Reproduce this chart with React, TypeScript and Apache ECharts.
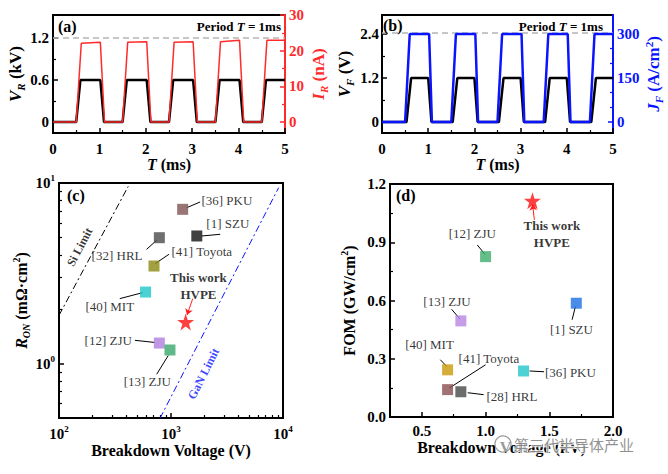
import React, { useEffect, useRef } from 'react';
import * as echarts from 'echarts';

const FONT = "'Liberation Serif','Times New Roman',serif";
const RED = '#ff2b2b';
const BLUE = '#0a14ff';
const lg = Math.log10;

// ---------- Panel (a) ----------
const aTimeV = [0, 0.5, 0.59, 1.02, 1.1, 1.5, 1.59, 2.02, 2.1, 2.5, 2.59, 3.02, 3.1, 3.5, 3.59, 4.02, 4.1, 4.5, 4.59, 5];
const aVR = [0, 0, 0.6, 0.6, 0, 0, 0.6, 0.6, 0, 0, 0.6, 0.6, 0, 0, 0.6, 0.6, 0, 0, 0.6, 0.6];
const aTimeI = [0, 0.5, 0.61, 1.02, 1.11, 1.5, 1.61, 2.02, 2.11, 2.5, 2.61, 3.02, 3.11, 3.5, 3.61, 4.02, 4.11, 4.5, 4.61, 5];
const aIR = [0, 0, 22.1, 22.4, 0, 0, 22.4, 22.5, 0, 0, 22.4, 22.5, 0, 0, 22.5, 22.9, 0, 0, 22.9, 22.9];
const aRefV = 1.2;
const tTicks = [0, 1, 2, 3, 4, 5];
const tMinor = [0.5, 1.5, 2.5, 3.5, 4.5];
const aVTicks = [0, 0.6, 1.2];
const aVMinor = [0.3, 0.9];
const aITicks = [0, 10, 20, 30];
const aIMinor = [5, 15, 25];

// ---------- Panel (b) ----------
const bTimeV = [0, 0.53, 0.63, 1.0, 1.07, 1.53, 1.63, 2.0, 2.07, 2.53, 2.63, 3.0, 3.07, 3.53, 3.63, 4.0, 4.07, 4.53, 4.63, 5];
const bVF = [0, 0, 1.2, 1.2, 0, 0, 1.2, 1.2, 0, 0, 1.2, 1.2, 0, 0, 1.2, 1.2, 0, 0, 1.2, 1.2];
const bTimeJ = [0, 0.5, 0.6, 1.02, 1.08, 1.5, 1.6, 2.02, 2.08, 2.5, 2.6, 3.02, 3.08, 3.5, 3.6, 4.02, 4.08, 4.5, 4.6, 5];
const bJF = [0, 0, 300, 300, 0, 0, 300, 300, 0, 0, 300, 300, 0, 0, 300, 300, 0, 0, 300, 300];
const bRefV = 2.43;
const bVTicks = [0, 1.2, 2.4];
const bVMinor = [0.6, 1.8];
const bJTicks = [0, 150, 300];
const bJMinor = [50, 100, 200, 250];

// ---------- Panel (c) ----------
const cNames = ['[36] PKU', '[1] SZU', '[32] HRL', '[41] Toyota', '[40] MIT', '[12] ZJU', '[13] ZJU'];
const cBV = [1271, 1700, 787, 705, 593, 787, 979];
const cRon = [7.15, 5.09, 4.98, 3.47, 2.49, 1.3, 1.19];
const cColors = ['#7f5252', '#101010', '#4b4b4b', '#8a8a12', '#1cc6c9', '#b07ddf', '#3aa86a'];
const cThisBV = 1352;
const cThisRon = 1.7;
const siLimitBV = [100, 415];
const siLimitRon = [1.85, 9.58];
const ganLimitBV = [796, 9140];
const ganLimitRon = [0.497, 9.42];
const cXTicks = [100, 1000, 10000];
const cXMinor = [200, 300, 400, 500, 600, 700, 800, 900, 2000, 3000, 4000, 5000, 6000, 7000, 8000, 9000];
const cYTicks = [1, 10];
const cYMinor = [0.6, 0.7, 0.8, 0.9, 2, 3, 4, 5, 6, 7, 8, 9];
// annotation layout: [text, textX, textY, leaderX1, leaderY1, leaderX2, leaderY2]
const cNotes: [string, number, number, number, number, number, number][] = [
  ['[36] PKU', 3155, 7.95, 1380, 7.3, 1820, 7.85],
  ['[1] SZU', 3215, 5.96, 1885, 5.09, 2750, 5.2],
  ['[32] HRL', 330, 3.98, 605, 4.29, 745, 4.82],
  ['[41] Toyota', 1884, 4.15, 724, 3.58, 959, 4.03],
  ['[40] MIT', 284, 2.06, 349, 2.29, 557, 2.47],
  ['[12] ZJU', 275, 1.335, 476, 1.346, 714, 1.31],
  ['[13] ZJU', 614, 0.798, 745, 0.873, 946, 1.11],
];
const cThisNote: [string, number, number, number, number, number, number] = ['This work\nHVPE', 1758, 2.7, 1563, 2.29, 1390, 1.86];

// ---------- Panel (d) ----------
const dNames = ['[12] ZJU', '[13] ZJU', '[1] SZU', '[40] MIT', '[41] Toyota', '[28] HRL', '[36] PKU'];
const dBV = [1.0, 0.806, 1.712, 0.702, 0.702, 0.806, 1.298];
const dFOM = [0.826, 0.495, 0.586, 0.243, 0.141, 0.13, 0.237];
const dColors = ['#3fae6c', '#b685e3', '#1e6fe3', '#c99a08', '#8a4f4f', '#474747', '#22c6cb'];
const dThisBV = 1.368;
const dThisFOM = 1.114;
const dXTicks = [0.5, 1.0, 1.5, 2.0];
const dXMinor = [0.75, 1.25, 1.75];
const dYTicks = [0, 0.3, 0.6, 0.9, 1.2];
const dYMinor = [0.15, 0.45, 0.75, 1.05];
const dNotes: [string, number, number, number, number, number, number][] = [
  ['[12] ZJU', 0.896, 0.946, 0.935, 0.886, 0.995, 0.838],
  ['[13] ZJU', 0.697, 0.595, 0.733, 0.555, 0.8, 0.504],
  ['[1] SZU', 1.674, 0.449, 1.679, 0.501, 1.705, 0.569],
  ['[40] MIT', 0.56, 0.372, 0.645, 0.295, 0.694, 0.261],
  ['[41] Toyota', 1.026, 0.3, 1.0, 0.269, 0.715, 0.149],
  ['[28] HRL', 1.207, 0.106, 0.86, 0.125, 0.985, 0.115],
  ['[36] PKU', 1.666, 0.23, 1.345, 0.237, 1.459, 0.233],
];
const dThisNote: [string, number, number, number, number, number, number] = ['This work\nHVPE', 1.52, 0.94, 1.383, 1.015, 1.369, 1.095];

const STAR = 'path://M50,0 L61.8,35.1 L98.9,35.1 L68.9,57.4 L80.3,92.7 L50,71 L19.7,92.7 L31.1,57.4 L1.1,35.1 L38.2,35.1 Z';

function richSet(color: string, size: number) {
  const base = { fontFamily: FONT, fontWeight: 'bold', color };
  return {
    n: { ...base, fontSize: size, lineHeight: size + 4 },
    i: { ...base, fontStyle: 'italic', fontSize: size, lineHeight: size + 4 },
    s: { ...base, fontStyle: 'italic', fontSize: Math.round(size * 0.62), verticalAlign: 'bottom' },
    p: { ...base, fontSize: Math.round(size * 0.62), verticalAlign: 'top' },
  };
}

type AxOpt = {
  grid: number; pos: string; min: number; max: number; ticks: number[]; labels?: number[];
  fmt?: (v: number) => string; color?: string; name?: string; nameGap?: number; margin?: number; line?: boolean; nameSize?: number;
};

function mainAxis(o: AxOpt) {
  const color = o.color || '#000';
  return {
    type: 'value', gridIndex: o.grid, position: o.pos, min: o.min, max: o.max,
    splitLine: { show: false },
    axisLine: { show: o.line !== false, onZero: false, lineStyle: { color, width: 2 } },
    axisTick: { show: true, inside: true, length: 5, customValues: o.ticks, lineStyle: { color, width: 1.5 } },
    axisLabel: {
      show: true, customValues: o.labels, margin: o.margin ?? 4,
      formatter: o.fmt || ((v: number) => `{n|${v}}`),
      rich: richSet(color, 15),
    },
    name: o.name, nameLocation: 'middle', nameGap: o.nameGap,
    nameTextStyle: { rich: richSet(color, o.nameSize || 16) },
  };
}

function minorAxis(grid: number, pos: string, min: number, max: number, ticks: number[], color = '#000') {
  return {
    type: 'value', gridIndex: grid, position: pos, min, max,
    splitLine: { show: false },
    axisLine: { show: false, onZero: false },
    axisTick: { show: true, inside: true, length: 3, customValues: ticks, lineStyle: { color, width: 1.2 } },
    axisLabel: { show: false },
  };
}

function zip(xs: number[], ys: number[], fx = (v: number) => v, fy = (v: number) => v) {
  return xs.map((x, i) => [fx(x), fy(ys[i])]);
}

function noteSeries(notes: [string, number, number, number, number, number, number][], xi: number, yi: number, f: (v: number) => number, color: string, textColor: string, bold: boolean, arrow: boolean) {
  return [
    {
      type: 'lines', coordinateSystem: 'cartesian2d', xAxisIndex: xi, yAxisIndex: yi, silent: true,
      symbol: arrow ? ['none', 'arrow'] : 'none', symbolSize: 6,
      lineStyle: { color, width: 1, opacity: 1, curveness: 0 },
      data: notes.map((n) => ({ coords: [[f(n[3]), f(n[4])], [f(n[5]), f(n[6])]] })),
      z: 3,
    },
    {
      type: 'scatter', xAxisIndex: xi, yAxisIndex: yi, silent: true, symbolSize: 1,
      itemStyle: { color: 'transparent' },
      data: notes.map((n) => ({ value: [f(n[1]), f(n[2])], name: n[0] })),
      label: {
        show: true, position: 'inside', formatter: '{b}', color: textColor,
        fontFamily: FONT, fontSize: 13, fontWeight: bold ? 'bold' : 'normal', lineHeight: 17,
      },
      z: 4,
    },
  ];
}

const idn = (v: number) => v;

function buildOption() {
  const grids = [
    { left: 53, top: 15, width: 232, height: 118 },
    { left: 382, top: 15, width: 231, height: 118 },
    { left: 59, top: 183, width: 224, height: 235 },
    { left: 390, top: 184, width: 223, height: 233 },
  ].map((g) => ({ ...g, show: true, borderColor: '#000', borderWidth: 2 }));

  const xAxis = [
    mainAxis({ grid: 0, pos: 'bottom', min: 0, max: 5, ticks: tTicks, labels: tTicks, name: '{i|T}{n| (ms)}', nameGap: 16, margin: 6 }),
    minorAxis(0, 'bottom', 0, 5, tMinor),
    mainAxis({ grid: 1, pos: 'bottom', min: 0, max: 5, ticks: tTicks, labels: tTicks, name: '{i|T}{n| (ms)}', nameGap: 16, margin: 6 }),
    minorAxis(1, 'bottom', 0, 5, tMinor),
    mainAxis({ grid: 2, pos: 'bottom', min: 2, max: 4, ticks: cXTicks.map(lg), labels: cXTicks.map(lg), fmt: (v) => `{n|10}{p|${Math.round(v)}}`, name: '{n|Breakdown Voltage (V)}', nameGap: 22, margin: 6 }),
    minorAxis(2, 'bottom', 2, 4, cXMinor.map(lg)),
    mainAxis({ grid: 3, pos: 'bottom', min: 0.25, max: 2.0, ticks: dXTicks, labels: dXTicks, fmt: (v) => `{n|${v.toFixed(1)}}`, name: '{n|Breakdown Voltage (kV)}', nameGap: 20, margin: 4 }),
    minorAxis(3, 'bottom', 0.25, 2.0, dXMinor),
  ];

  const yAxis = [
    mainAxis({ grid: 0, pos: 'left', min: -0.157, max: 1.53, ticks: aVTicks, labels: aVTicks, name: '{i|V}{s|R}{n| (kV)}', nameGap: 22, margin: 4, nameSize: 17 }),
    minorAxis(0, 'left', -0.157, 1.53, aVMinor),
    mainAxis({ grid: 0, pos: 'right', min: -3.05, max: 30, ticks: aITicks, labels: aITicks, color: RED, name: '{i|I}{s|R}{n| (nA)}', nameGap: 23, margin: 4, nameSize: 17 }),
    minorAxis(0, 'right', -3.05, 30, aIMinor, RED),
    mainAxis({ grid: 1, pos: 'left', min: -0.3, max: 2.92, ticks: bVTicks, labels: bVTicks, name: '{i|V}{s|F}{n| (V)}', nameGap: 27, margin: 3, nameSize: 17 }),
    minorAxis(1, 'left', -0.3, 2.92, bVMinor),
    mainAxis({ grid: 1, pos: 'right', min: -37.5, max: 365, ticks: bJTicks, labels: bJTicks, color: BLUE, name: '{i|J}{s|F}{n| (A/cm}{p|2}{n|)}', nameGap: 30, margin: 4, nameSize: 17 }),
    minorAxis(1, 'right', -37.5, 365, bJMinor, BLUE),
    mainAxis({ grid: 2, pos: 'left', min: lg(0.5), max: 1, ticks: cYTicks.map(lg), labels: cYTicks.map(lg), fmt: (v) => `{n|10}{p|${Math.round(v)}}`, name: '{i|R}{s|ON}{n| (mΩ·cm}{p|2}{n|)}', nameGap: 21, margin: 4 }),
    minorAxis(2, 'left', lg(0.5), 1, cYMinor.map(lg)),
    mainAxis({ grid: 3, pos: 'left', min: 0, max: 1.2, ticks: dYTicks, labels: dYTicks, fmt: (v) => `{n|${v.toFixed(1)}}`, name: '{n|FOM (GW/cm}{p|2}{n|)}', nameGap: 31, margin: 4 }),
    minorAxis(3, 'left', 0, 1.2, dYMinor),
  ];

  const lineBase = { type: 'line', symbol: 'none', showSymbol: false, silent: true };

  const series: any[] = [
    // (a)
    { ...lineBase, xAxisIndex: 0, yAxisIndex: 0, data: [[0, aRefV], [5, aRefV]], lineStyle: { color: '#b4b4b4', width: 1.5, type: [6, 4] } },
    { ...lineBase, xAxisIndex: 0, yAxisIndex: 0, data: zip(aTimeV, aVR), lineStyle: { color: '#000', width: 2.5 } },
    { ...lineBase, xAxisIndex: 0, yAxisIndex: 2, data: zip(aTimeI, aIR), lineStyle: { color: RED, width: 1.5 } },
    // (b)
    { ...lineBase, xAxisIndex: 2, yAxisIndex: 4, data: [[0, bRefV], [5, bRefV]], lineStyle: { color: '#b4b4b4', width: 1.5, type: [6, 4] } },
    { ...lineBase, xAxisIndex: 2, yAxisIndex: 4, data: zip(bTimeV, bVF), lineStyle: { color: '#000', width: 2.5 } },
    { ...lineBase, xAxisIndex: 2, yAxisIndex: 6, data: zip(bTimeJ, bJF), lineStyle: { color: BLUE, width: 2.5 } },
    // (c) limits
    { ...lineBase, xAxisIndex: 4, yAxisIndex: 8, data: zip(siLimitBV, siLimitRon, lg, lg), lineStyle: { color: '#000', width: 1, type: [7, 3, 2, 3] } },
    { ...lineBase, xAxisIndex: 4, yAxisIndex: 8, data: zip(ganLimitBV, ganLimitRon, lg, lg), lineStyle: { color: BLUE, width: 1, type: [7, 3, 2, 3] } },
    {
      type: 'scatter', xAxisIndex: 4, yAxisIndex: 8, silent: true, symbolSize: 1, itemStyle: { color: 'transparent' },
      data: [
        { value: [lg(153), lg(4.42)], name: 'Si Limit', label: { rotate: 62, color: '#000' } },
        { value: [lg(1950), lg(0.88)], name: 'GaN Limit', label: { rotate: 63, color: BLUE } },
      ],
      label: { show: true, position: 'inside', formatter: '{b}', fontFamily: FONT, fontWeight: 'bold', fontSize: 12 },
    },
    // (c) points
    {
      type: 'scatter', xAxisIndex: 4, yAxisIndex: 8, symbol: 'rect', symbolSize: 11, silent: true,
      data: cNames.map((n, i) => ({ name: n, value: [lg(cBV[i]), lg(cRon[i])], itemStyle: { color: cColors[i] } })),
      z: 5,
    },
    {
      type: 'scatter', xAxisIndex: 4, yAxisIndex: 8, symbol: STAR, symbolSize: 17, silent: true,
      data: [[lg(cThisBV), lg(cThisRon)]], itemStyle: { color: '#ff1010' }, z: 5,
    },
    ...noteSeries(cNotes, 4, 8, lg, '#000', '#000', false, false),
    ...noteSeries([cThisNote], 4, 8, lg, '#ff2020', '#000', true, true),
    // (d) points
    {
      type: 'scatter', xAxisIndex: 6, yAxisIndex: 10, symbol: 'rect', symbolSize: 11, silent: true,
      data: dNames.map((n, i) => ({ name: n, value: [dBV[i], dFOM[i]], itemStyle: { color: dColors[i] } })),
      z: 5,
    },
    {
      type: 'scatter', xAxisIndex: 6, yAxisIndex: 10, symbol: STAR, symbolSize: 17, silent: true,
      data: [[dThisBV, dThisFOM]], itemStyle: { color: '#ff1010' }, z: 5,
    },
    ...noteSeries(dNotes, 6, 10, idn, '#000', '#000', false, false),
    ...noteSeries([dThisNote], 6, 10, idn, '#ff2020', '#000', true, true),
  ];

  const txt = (text: string, x: number, y: number, size: number, align = 'left') => ({
    type: 'text', x, y, z: 50,
    style: { text, fill: '#000', font: `bold ${size}px ${FONT}`, align, verticalAlign: 'middle' },
  });
  const periodRich = {
    n: { fontFamily: FONT, fontWeight: 'bold', fontSize: 13, fill: '#000' },
    i: { fontFamily: FONT, fontWeight: 'bold', fontStyle: 'italic', fontSize: 13, fill: '#000' },
  };
  const period = (x: number) => ({
    type: 'text', x, y: 26, z: 50,
    style: { text: '{n|Period }{i|T}{n| = 1ms}', rich: periodRich, align: 'right', verticalAlign: 'middle', fill: '#000' },
  });

  const graphic = [
    txt('(a)', 58, 26, 16),
    txt('(b)', 383, 25, 16),
    txt('(c)', 67, 195, 16),
    txt('(d)', 396, 195, 16),
    period(281),
    period(603),
    { type: 'circle', z: 60, shape: { cx: 503, cy: 444, r: 8 }, style: { fill: 'rgba(255,255,255,0.6)', stroke: '#9a9a9a', lineWidth: 1.2 } },
    {
      type: 'text', x: 514, y: 444, z: 60,
      style: {
        text: '第三代半导体产业', font: "15px 'Noto Sans CJK SC'", fill: 'rgba(125,125,125,0.85)',
        stroke: 'rgba(255,255,255,0.8)', lineWidth: 2, verticalAlign: 'middle',
      },
    },
  ];

  return {
    animation: false,
    backgroundColor: '#fff',
    grid: grids,
    xAxis,
    yAxis,
    series,
    graphic,
  };
}

export default function App() {
  const ref = useRef<HTMLDivElement>(null);
  useEffect(() => {
    document.body.style.margin = '0';
    const chart = echarts.init(ref.current!, null, { renderer: 'svg' });
    chart.setOption(buildOption() as any);
    return () => chart.dispose();
  }, []);
  return <div ref={ref} style={{ width: 668, height: 474 }} />;
}
